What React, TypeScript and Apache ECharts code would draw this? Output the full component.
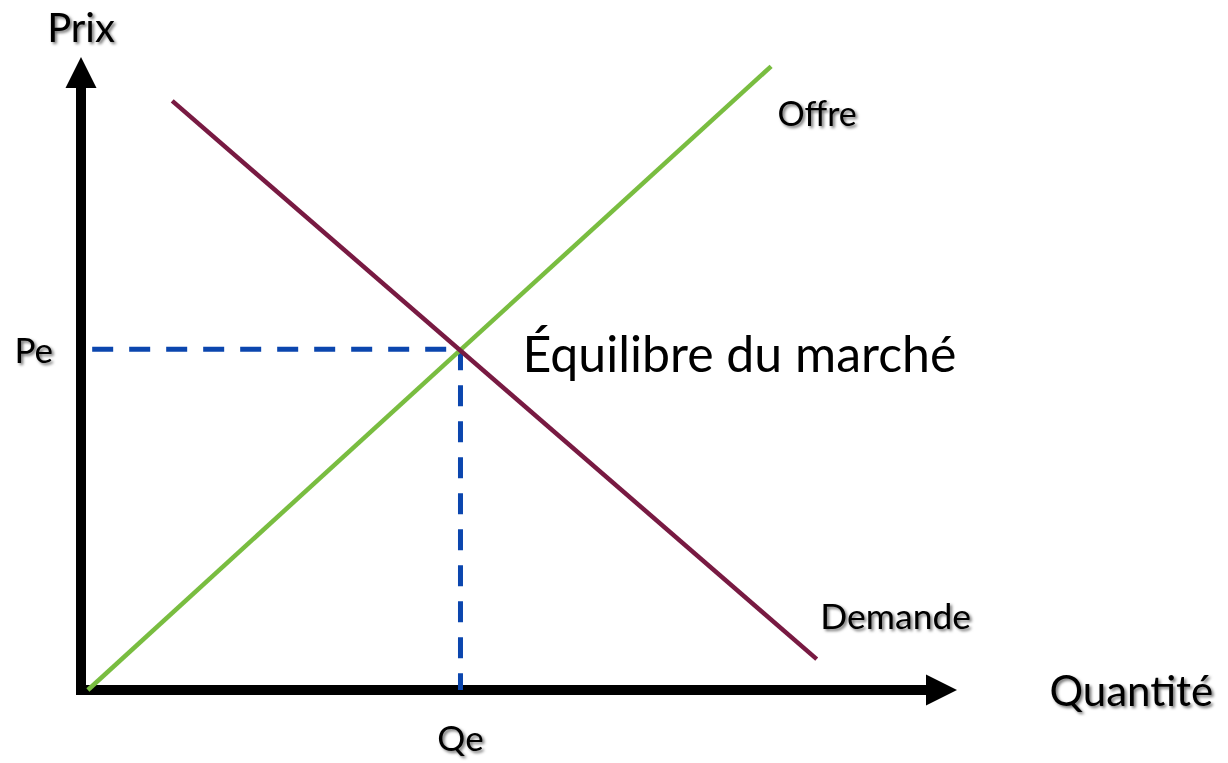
import React, { useEffect, useRef } from "react";
import * as echarts from "echarts";

// Axis titles and equilibrium labels
const xAxisTitle = "Quantité";
const yAxisTitle = "Prix";
const qeLabel = "Qe";
const peLabel = "Pe";
const equilibriumLabel = "Équilibre du marché";
const supplyLabel = "Offre";
const demandLabel = "Demande";

// Curves (quantity, price), axes 0..100
const supplyQ = [0.8, 80.2];
const supplyP = [0, 101];
const demandQ = [10.6, 85.5];
const demandP = [95.4, 5];

// Equilibrium
const Qe = 44.1;
const Pe = 55.2;
const dashStartQ = 1.3;

const FONT = "Lato, 'Noto Sans', sans-serif";
const shadow = {
  textShadowColor: "rgba(0,0,0,0.55)",
  textShadowBlur: 3,
  textShadowOffsetX: 2,
  textShadowOffsetY: 2,
};

export default function App() {
  const ref = useRef<HTMLDivElement>(null);
  useEffect(() => {
    if (!ref.current) return;
    const chart = echarts.init(ref.current, undefined, { renderer: "svg" });
    const supplyData = supplyQ.map((q, i) => [q, supplyP[i]]);
    const demandData = demandQ.map((q, i) => [q, demandP[i]]);
    const blue = "#0b46ae";
    chart.setOption({
      animation: false,
      backgroundColor: "#ffffff",
      grid: {
        left: 81,
        right: 286.5,
        top: 72.5,
        bottom: 73,
        containLabel: false,
        outerBoundsMode: "none",
      },
      xAxis: {
        type: "value",
        min: 0,
        max: 100,
        name: xAxisTitle,
        nameLocation: "end",
        nameGap: 108,
        nameTextStyle: { fontFamily: FONT, fontSize: 42, color: "#000", ...shadow },
        axisLine: {
          show: true,
          onZero: false,
          symbol: ["none", "triangle"],
          symbolSize: [31, 31],
          lineStyle: { color: "#000", width: 10, cap: "square" },
        },
        axisTick: { show: false },
        splitLine: { show: false },
        axisLabel: {
          show: true,
          customValues: [Qe],
          formatter: () => qeLabel,
          margin: 29,
          fontFamily: FONT,
          fontSize: 35,
          color: "#000",
          ...shadow,
        },
      },
      yAxis: {
        type: "value",
        min: 0,
        max: 100,
        name: yAxisTitle,
        nameLocation: "end",
        nameGap: 26,
        nameTextStyle: { fontFamily: FONT, fontSize: 40, color: "#000", ...shadow },
        axisLine: {
          show: true,
          onZero: false,
          symbol: ["none", "triangle"],
          symbolSize: [31, 31],
          lineStyle: { color: "#000", width: 10, cap: "square" },
        },
        axisTick: { show: false },
        splitLine: { show: false },
        axisLabel: {
          show: true,
          customValues: [Pe],
          formatter: () => peLabel,
          margin: 28,
          fontFamily: FONT,
          fontSize: 35,
          color: "#000",
          ...shadow,
        },
      },
      series: [
        {
          type: "line",
          name: "Pe",
          data: [
            [dashStartQ, Pe],
            [Qe, Pe],
          ],
          showSymbol: false,
          symbol: "none",
          clip: false,
          lineStyle: { color: blue, width: 5, type: [21, 16] },
          z: 2,
        },
        {
          type: "line",
          name: "Qe",
          data: [
            [Qe, Pe],
            [Qe, 0],
          ],
          showSymbol: false,
          symbol: "none",
          clip: false,
          lineStyle: { color: blue, width: 5, type: [21, 15] },
          z: 2,
        },
        {
          type: "line",
          name: supplyLabel,
          data: supplyData,
          showSymbol: false,
          symbol: "none",
          clip: false,
          lineStyle: { color: "#79bd40", width: 4.5 },
          z: 3,
        },
        {
          type: "line",
          name: demandLabel,
          data: demandData,
          showSymbol: false,
          symbol: "none",
          clip: false,
          lineStyle: { color: "#781a42", width: 4.5 },
          z: 4,
        },
        {
          type: "scatter",
          name: "labels",
          symbolSize: 0,
          clip: false,
          itemStyle: { color: "#000", opacity: 1 },
          z: 5,
          data: [
            {
              value: [supplyQ[1], supplyP[1]],
              label: {
                show: true,
                formatter: supplyLabel,
                position: "inside",
                offset: [46, 46],
                fontFamily: FONT,
                fontSize: 34,
                color: "#000",
                opacity: 1,
                ...shadow,
              },
            },
            {
              value: [demandQ[1], demandP[1]],
              label: {
                show: true,
                formatter: demandLabel,
                position: "inside",
                offset: [79, -44],
                fontFamily: FONT,
                fontSize: 35.5,
                color: "#000",
                opacity: 1,
                ...shadow,
              },
            },
            {
              value: [Qe, Pe],
              label: {
                show: true,
                formatter: equilibriumLabel,
                position: "right",
                distance: 62,
                offset: [0, 4],
                fontFamily: FONT,
                fontSize: 50,
                color: "#000",
                opacity: 1,
              },
            },
          ],
        },
      ],
    });
    return () => chart.dispose();
  }, []);
  return (
    <div
      ref={ref}
      style={{ position: "absolute", left: 0, top: 0, width: 1228, height: 763 }}
    />
  );
}
